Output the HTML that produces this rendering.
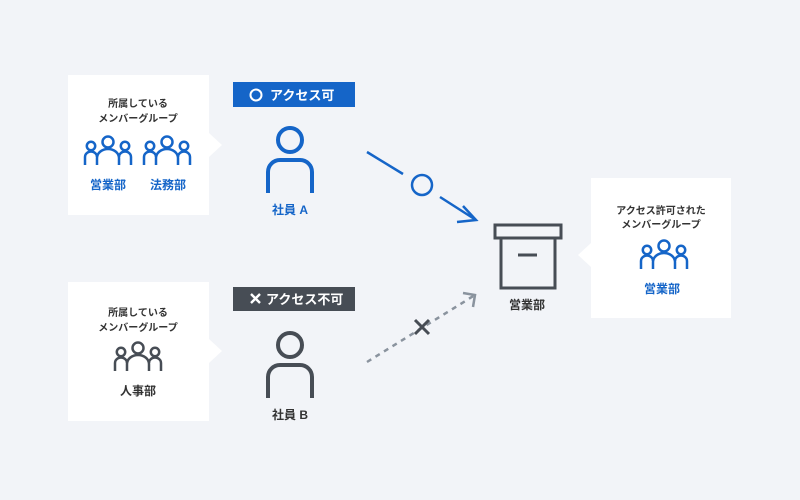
<!DOCTYPE html>
<html><head><meta charset="utf-8"><style>
body{margin:0;background:#f2f4f8;}
svg{display:block}
text{font-family:"Liberation Sans","Noto Sans CJK JP",sans-serif;font-weight:bold}
</style></head><body>
<svg width="800" height="500" viewBox="0 0 800 500">
<defs>
<g id="grp" fill="none" stroke-width="2.5" stroke-linecap="butt">
 <circle cx="0" cy="-10" r="5.5"/>
 <circle cx="-17" cy="-6" r="4.2"/>
 <circle cx="17" cy="-6" r="4.2"/>
 <path d="M-11 13 V6 a11 9 0 0 1 22 0 V13"/>
 <path d="M-23 13 V5 a6 5.5 0 0 1 12 0"/>
 <path d="M23 13 V5 a6 5.5 0 0 0 -12 0"/>
</g>
<g id="person" fill="none" stroke-width="4">
 <circle cx="0" cy="0" r="12"/>
 <path d="M-22 53 V32 a12 12 0 0 1 12 -12 H10 a12 12 0 0 1 12 12 V53"/>
</g>
</defs>
<rect width="800" height="500" fill="#f2f4f8"/>
<!-- top left box -->
<rect x="68" y="75" width="141" height="140" fill="#fff"/>
<polygon points="209,133 222,145 209,157" fill="#fff"/>
<text x="138" y="107" font-size="10" fill="#333" text-anchor="middle" font-weight="normal">所属している</text>
<text x="138" y="122" font-size="10" fill="#333" text-anchor="middle" font-weight="normal">メンバーグループ</text>
<use href="#grp" x="108" y="152" stroke="#1565c8"/>
<use href="#grp" x="167" y="152" stroke="#1565c8"/>
<text x="108" y="189" font-size="12" fill="#1565c8" text-anchor="middle">営業部</text>
<text x="168" y="189" font-size="12" fill="#1565c8" text-anchor="middle">法務部</text>
<!-- badge A -->
<rect x="233" y="82" width="122" height="25" fill="#1565c8"/>
<circle cx="256" cy="95" r="5.5" fill="none" stroke="#fff" stroke-width="2"/>
<text x="270" y="100" font-size="13" fill="#fff">アクセス可</text>
<use href="#person" x="290" y="140" stroke="#1565c8"/>
<text x="290" y="214" font-size="12" fill="#1565c8" text-anchor="middle">社員 A</text>
<!-- bottom left box -->
<rect x="68" y="282" width="141" height="139" fill="#fff"/>
<polygon points="209,339 222,351 209,363" fill="#fff"/>
<text x="138" y="316" font-size="10" fill="#333" text-anchor="middle" font-weight="normal">所属している</text>
<text x="138" y="331" font-size="10" fill="#333" text-anchor="middle" font-weight="normal">メンバーグループ</text>
<use href="#grp" x="138" y="358" stroke="#474d55"/>
<text x="138" y="395" font-size="12" fill="#333" text-anchor="middle">人事部</text>
<!-- badge B -->
<rect x="233" y="287" width="122" height="24" fill="#474d55"/>
<path d="M251 294 l9 9 M260 294 l-9 9" stroke="#fff" stroke-width="2.4"/>
<text x="266" y="304" font-size="13" fill="#fff">アクセス不可</text>
<use href="#person" x="290" y="345" stroke="#474d55"/>
<text x="290" y="419" font-size="12" fill="#333" text-anchor="middle">社員 B</text>
<!-- blue arrow -->
<path d="M367 152 L403 174 M440 197 L476 220" stroke="#1565c8" stroke-width="2.5" fill="none"/>
<path d="M463 206 L476 220 L457 222" stroke="#1565c8" stroke-width="2.5" fill="none"/>
<circle cx="422" cy="185" r="10" fill="none" stroke="#1565c8" stroke-width="2.5"/>
<!-- dotted arrow -->
<path d="M367 362 L475 295" stroke="#8a939e" stroke-width="2.5" stroke-dasharray="5,5" fill="none"/>
<path d="M463 293 L475 295 L473 307" stroke="#8a939e" stroke-width="2.5" fill="none"/>
<path d="M415 320 l14 14 M429 320 l-14 14" stroke="#474d55" stroke-width="3"/>
<!-- box icon -->
<rect x="495" y="225" width="66" height="13" fill="none" stroke="#474d55" stroke-width="3"/>
<rect x="501" y="238" width="54" height="50" fill="none" stroke="#474d55" stroke-width="3"/>
<path d="M518 255 H537" stroke="#474d55" stroke-width="3"/>
<text x="527" y="309" font-size="12" fill="#333" text-anchor="middle">営業部</text>
<!-- right box -->
<rect x="591" y="178" width="140" height="140" fill="#fff"/>
<polygon points="591,243 578,255 591,267" fill="#fff"/>
<text x="661" y="214" font-size="10" fill="#333" text-anchor="middle" font-weight="normal">アクセス許可された</text>
<text x="661" y="228" font-size="10" fill="#333" text-anchor="middle" font-weight="normal">メンバーグループ</text>
<use href="#grp" x="664" y="256" stroke="#1565c8"/>
<text x="662" y="293" font-size="12" fill="#1565c8" text-anchor="middle">営業部</text>
</svg>
</body></html>
